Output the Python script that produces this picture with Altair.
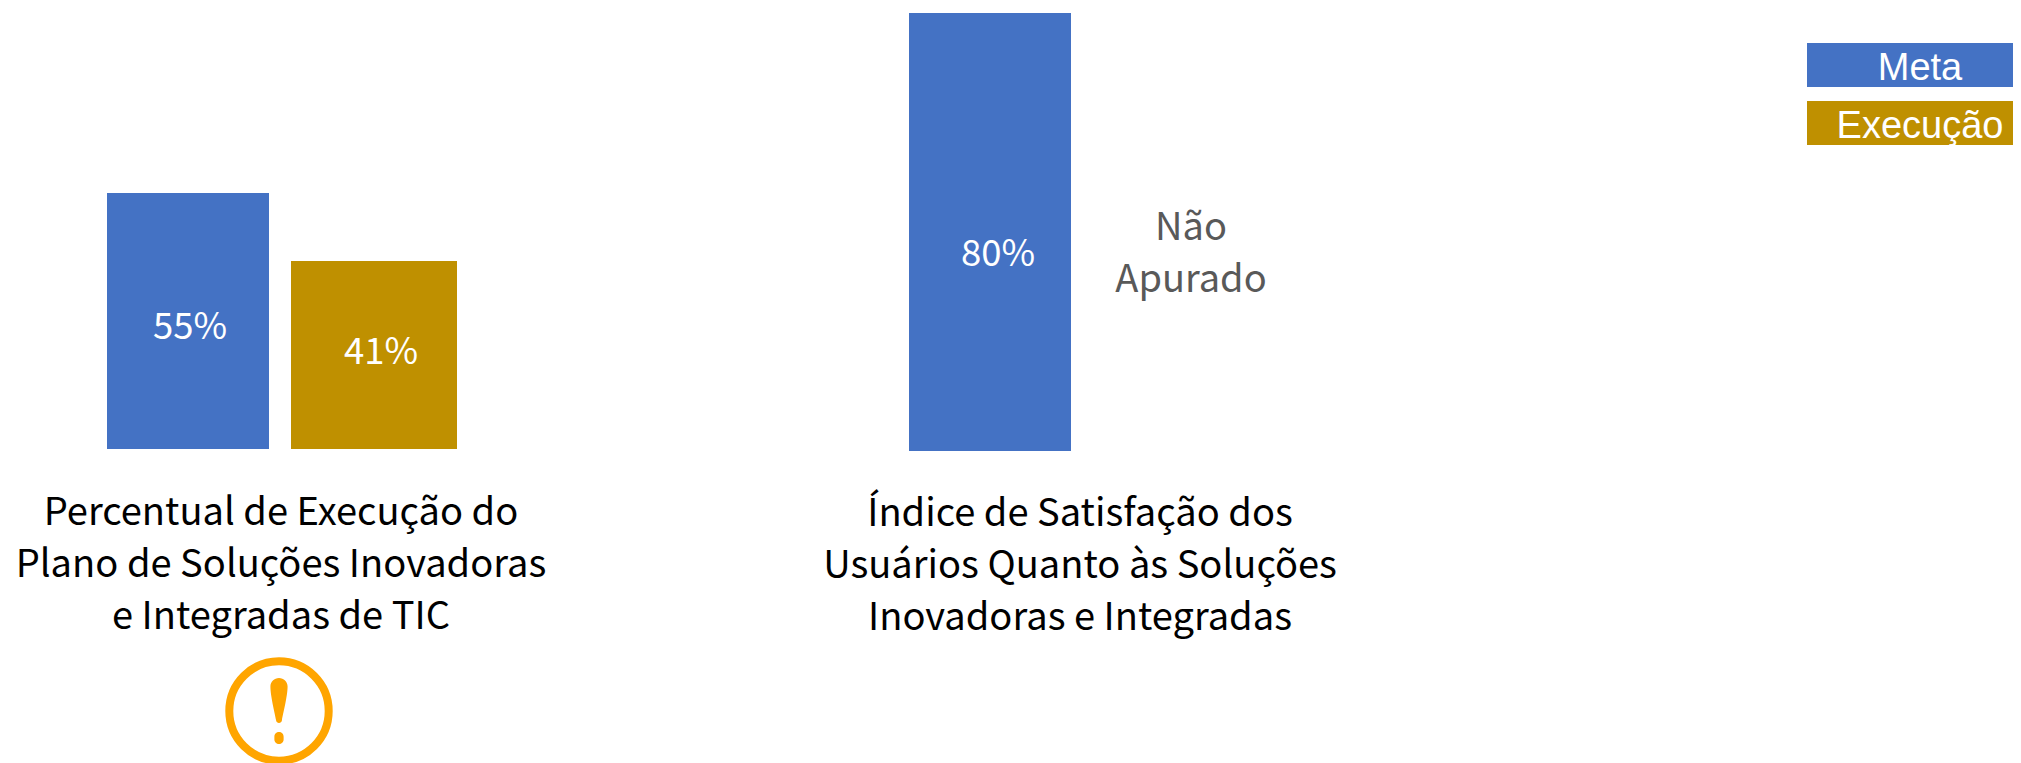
import altair as alt
import pandas as pd

# ---- chart values ----------------------------------------------------------
series = ["Meta", "Execução"]
series_colors = ["#4472C4", "#BF9000"]

indicator_titles = [
    ["Percentual de Execução do", "Plano de Soluções Inovadoras", "e Integradas de TIC"],
    ["Índice de Satisfação dos", "Usuários Quanto às Soluções", "Inovadoras e Integradas"],
]
bar_series = ["Meta", "Execução", "Meta"]
bar_values = [55, 41, 80]
no_data_text = ["Não", "Apurado"]

TITLE_FONT = "Noto Sans CJK JP"
LEGEND_FONT = "Liberation Sans"
color_scale = alt.Scale(domain=series, range=series_colors)

# each bar was drawn on its own scale in the source picture
bar_x_ranges = [[99, 261], [283, 449], [901, 1063]]
bar_y_ranges = [[441, 185], [441, 253], [443, 5]]
label_offsets = [(2, 7), (7, -2), (8, 23)]


def bar_layers(i):
    row = pd.DataFrame({
        "serie": [bar_series[i]],
        "valor": [bar_values[i]],
        "meio": [bar_values[i] / 2],
        "rotulo": [f"{bar_values[i]}%"],
    })
    x = alt.X("serie:N", axis=None,
              scale=alt.Scale(type="band", domain=[bar_series[i]], range=bar_x_ranges[i],
                              paddingInner=0, paddingOuter=0))
    y_scale = alt.Scale(domain=[0, bar_values[i]], range=bar_y_ranges[i], nice=False)
    bar = alt.Chart(row).mark_bar().encode(
        x=x,
        y=alt.Y("valor:Q", axis=None, scale=y_scale),
        color=alt.Color("serie:N", scale=color_scale, legend=None),
    )
    dx, dy = label_offsets[i]
    label = alt.Chart(row).mark_text(
        font=TITLE_FONT, fontSize=36.5, color="white", dx=dx, dy=dy, baseline="middle"
    ).encode(
        x=x,
        y=alt.Y("meio:Q", axis=None, scale=y_scale),
        text="rotulo:N",
    )
    return [bar, label]


def note(lines, x, y, size, color, font=TITLE_FONT, line_height=52):
    return alt.Chart(pd.DataFrame({"t": [lines]})).mark_text(
        font=font, fontSize=size, color=color, align="center",
        baseline="alphabetic", lineHeight=line_height, lineBreak="\n",
    ).encode(x=alt.value(x), y=alt.value(y), text="t:N")


layers = []
for i in range(len(bar_values)):
    layers += bar_layers(i)

layers.append(note("\n".join(indicator_titles[0]), 273, 517, 38.1, "#000000"))
layers.append(note("\n".join(indicator_titles[1]), 1072, 518, 38.1, "#000000"))
layers.append(note("\n".join(no_data_text), 1183, 232, 38, "#595959"))

# legend boxes
legend_df = pd.DataFrame({"serie": series})
legend_y = alt.Y("serie:N", axis=None,
                 scale=alt.Scale(type="band", domain=series, range=[35, 137],
                                 paddingInner=0.2414, paddingOuter=0))
layers.append(alt.Chart(legend_df).mark_bar().encode(
    x=alt.value(1799), x2=alt.value(2005), y=legend_y,
    color=alt.Color("serie:N", scale=color_scale, legend=None),
))
layers.append(alt.Chart(legend_df).mark_text(
    font=LEGEND_FONT, fontSize=38, color="white", baseline="alphabetic", dy=15
).encode(x=alt.value(1912), y=legend_y, text="serie:N"))

# warning icon
icon_df = pd.DataFrame({"icone": ["alerta"]})
layers.append(alt.Chart(icon_df).mark_point(
    shape="circle", filled=False, stroke="#FFA500", strokeWidth=8, size=9880, opacity=1
).encode(x=alt.value(271), y=alt.value(703)))
drop = ("M -0.26 -0.74 A 0.26 0.26 0 0 1 0.26 -0.74 C 0.26 -0.45 0.12 0.1 0.09 0.27 "
        "A 0.09 0.09 0 0 1 -0.09 0.27 C -0.12 0.1 -0.26 -0.45 -0.26 -0.74 Z "
        "M -0.14 0.78 A 0.14 0.14 0 0 1 0.14 0.78 L 0.14 0.86 A 0.14 0.14 0 0 1 -0.14 0.86 Z")
layers.append(alt.Chart(icon_df).mark_point(
    shape=drop, filled=True, fill="#FFA500", size=4356, opacity=1
).encode(x=alt.value(271), y=alt.value(703)))

chart = alt.layer(*layers).resolve_scale(x="independent", y="independent").properties(
    width=2005, height=755, padding=0, background="white"
).configure_view(stroke=None)

chart.save("out.html", embed_options={"renderer": "svg", "actions": False})
